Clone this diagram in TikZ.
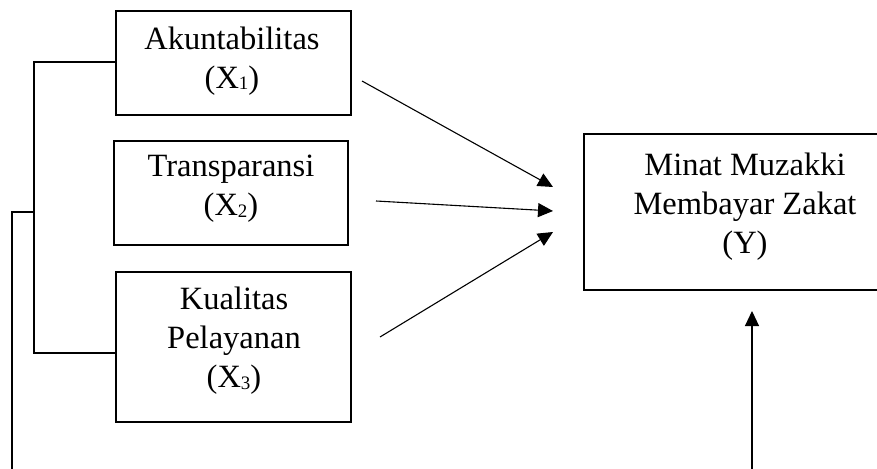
\documentclass[tikz,border=0pt]{standalone}
\usepackage{fontspec}
\setmainfont{Liberation Serif}
\usetikzlibrary{arrows.meta}
\newcommand{\subidx}[1]{{\fontsize{19}{19}\selectfont\raisebox{-1.5pt}{#1}}}
\begin{document}
\begin{tikzpicture}[x=1pt,y=-1pt,
  box/.style={draw,line width=1.3pt,inner sep=0pt},
  lbl/.style={align=center,font=\fontsize{32.5}{39}\selectfont,inner sep=0pt},
  conn/.style={line width=1.1pt},
  arr/.style={line width=1.1pt,-{Triangle[length=15pt,width=14pt]}}]
\useasboundingbox (0,0) rectangle (877,468);
% boxes
\node[box,minimum width=235pt,minimum height=104pt] (x1) at (233.5,63) {};
\node[box,minimum width=234pt,minimum height=104pt] (x2) at (231,193) {};
\node[box,minimum width=235pt,minimum height=150pt] (x3) at (233.5,347) {};
\node[box,minimum width=321pt,minimum height=156pt] (y) at (744.5,212) {};
% labels
\node[lbl] (x1t) at (232,61) {Akuntabilitas\\(X\subidx{1})};
\node[lbl] (x2t) at (231,189) {Transparansi\\(X\subidx{2})};
\node[lbl] (x3t) at (234,341) {Kualitas\\Pelayanan\\(X\subidx{3})};
\node[lbl] (yt) at (745,207) {Minat Muzakki\\Membayar Zakat\\(Y)};
% arrow endpoints
\coordinate (a1s) at (362,81);
\coordinate (a1e) at (553,187);
\coordinate (a2s) at (376,201);
\coordinate (a2e) at (553,211);
\coordinate (a3s) at (380,337);
\coordinate (a3e) at (553,232);
\coordinate (ups) at (752,470);
\coordinate (upe) at (752,311);
\draw[arr] (a1s) -- (a1e);
\draw[arr] (a2s) -- (a2e);
\draw[arr] (a3s) -- (a3e);
\draw[arr] (ups) -- (upe);
% bracket
\coordinate (b1) at (x1.west |- 0,62);
\coordinate (b3) at (x3.west |- 0,353);
\coordinate (bt) at (34,62);
\coordinate (bb) at (34,353);
\coordinate (bm) at (34,212);
\coordinate (lt) at (12,212);
\coordinate (lb) at (12,470);
\draw[conn] (b1) -- (bt) -- (bb) -- (b3);
\draw[conn] (bm) -- (lt) -- (lb);
\end{tikzpicture}
\end{document}
